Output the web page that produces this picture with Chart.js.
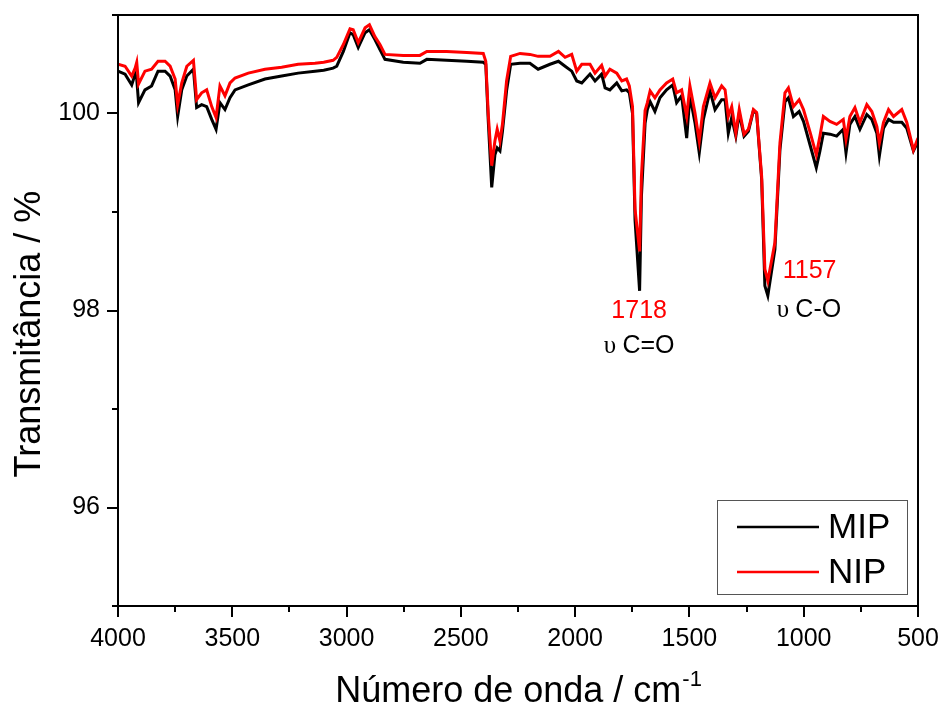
<!DOCTYPE html>
<html>
<head>
<meta charset="utf-8">
<script src="https://cdn.jsdelivr.net/npm/chart.js@4.4.0/dist/chart.umd.min.js"></script>
<style>
  html, body { margin: 0; padding: 0; background: #fff; }
</style>
</head>
<body>
<canvas id="myChart" width="940" height="709"></canvas>
<script>
// FTIR spectra
const wavenumber = [4000, 3969, 3940, 3925, 3918, 3910, 3882, 3853, 3825, 3794, 3772, 3750, 3739, 3721, 3699, 3670, 3656, 3634, 3612, 3590, 3571, 3554, 3532, 3510, 3488, 3430, 3357, 3284, 3212, 3138, 3100, 3059, 3043, 3014, 2985, 2971, 2949, 2919, 2900, 2876, 2854, 2832, 2752, 2679, 2649, 2562, 2474, 2402, 2391, 2380, 2365, 2351, 2341, 2329, 2318, 2300, 2282, 2241, 2198, 2162, 2110, 2073, 2044, 2015, 1993, 1971, 1935, 1913, 1884, 1869, 1848, 1818, 1796, 1775, 1763, 1749, 1738, 1718, 1710, 1694, 1684, 1672, 1651, 1629, 1600, 1573, 1556, 1534, 1512, 1498, 1476, 1457, 1439, 1410, 1388, 1359, 1344, 1330, 1315, 1297, 1282, 1261, 1242, 1220, 1206, 1184, 1170, 1157, 1126, 1104, 1082, 1067, 1045, 1020, 1001, 971, 945, 929, 914, 885, 856, 827, 815, 798, 776, 754, 724, 702, 680, 669, 651, 629, 607, 571, 549, 520, 505, 500];
const mip = [100.43, 100.40, 100.29, 100.40, 100.35, 100.11, 100.24, 100.28, 100.43, 100.43, 100.38, 100.24, 99.97, 100.24, 100.38, 100.45, 100.06, 100.09, 100.07, 99.94, 99.84, 100.11, 100.04, 100.16, 100.24, 100.29, 100.35, 100.38, 100.41, 100.43, 100.44, 100.46, 100.48, 100.63, 100.82, 100.80, 100.67, 100.82, 100.85, 100.75, 100.65, 100.55, 100.52, 100.51, 100.55, 100.54, 100.53, 100.52, 100.50, 99.92, 99.25, 99.58, 99.65, 99.62, 99.82, 100.23, 100.50, 100.51, 100.51, 100.45, 100.50, 100.53, 100.48, 100.43, 100.33, 100.31, 100.40, 100.33, 100.40, 100.26, 100.24, 100.31, 100.23, 100.24, 100.21, 100.00, 98.92, 98.20, 99.16, 99.90, 100.04, 100.12, 100.02, 100.16, 100.24, 100.29, 100.11, 100.18, 99.75, 100.18, 99.91, 99.60, 99.94, 100.23, 100.04, 100.14, 100.14, 99.80, 99.96, 99.77, 100.00, 99.77, 99.82, 100.03, 100.00, 99.33, 98.25, 98.15, 98.62, 99.63, 100.12, 100.16, 99.97, 100.02, 99.92, 99.67, 99.45, 99.62, 99.80, 99.79, 99.77, 99.84, 99.60, 99.89, 99.97, 99.84, 99.99, 99.94, 99.80, 99.57, 99.85, 99.94, 99.91, 99.91, 99.85, 99.62, 99.69, 99.68];
const nip = [100.50, 100.48, 100.38, 100.46, 100.52, 100.30, 100.43, 100.45, 100.53, 100.53, 100.48, 100.35, 100.09, 100.31, 100.48, 100.54, 100.14, 100.21, 100.24, 100.07, 99.96, 100.28, 100.18, 100.31, 100.36, 100.41, 100.45, 100.47, 100.50, 100.51, 100.52, 100.54, 100.57, 100.70, 100.86, 100.85, 100.72, 100.87, 100.90, 100.78, 100.70, 100.60, 100.59, 100.59, 100.63, 100.63, 100.62, 100.61, 100.53, 99.99, 99.47, 99.72, 99.84, 99.72, 99.89, 100.33, 100.58, 100.61, 100.60, 100.58, 100.58, 100.63, 100.57, 100.60, 100.43, 100.50, 100.50, 100.41, 100.49, 100.38, 100.45, 100.41, 100.33, 100.35, 100.28, 100.07, 99.03, 98.60, 99.36, 100.03, 100.11, 100.23, 100.16, 100.24, 100.31, 100.35, 100.21, 100.24, 99.97, 100.28, 100.01, 99.72, 100.07, 100.31, 100.16, 100.28, 100.24, 99.97, 100.07, 99.80, 100.04, 99.79, 99.84, 100.04, 100.01, 99.36, 98.42, 98.30, 98.69, 99.70, 100.21, 100.26, 100.07, 100.14, 100.04, 99.80, 99.58, 99.77, 99.97, 99.92, 99.89, 99.94, 99.74, 99.97, 100.06, 99.91, 100.09, 100.02, 99.87, 99.70, 99.91, 100.04, 99.97, 100.04, 99.91, 99.63, 99.72, 99.75];

const xTicks = [4000, 3500, 3000, 2500, 2000, 1500, 1000, 500];
const yTicks = [96, 98, 100];

const FONT = "'Liberation Sans', Arial, sans-serif";

// frame, tick marks, titles, legend and band labels
const decorations = {
  id: 'decorations',
  afterDraw(chart) {
    const c = chart.ctx;
    const a = chart.chartArea;
    const xs = chart.scales.x;
    const ys = chart.scales.y;
    c.save();
    c.strokeStyle = '#000';
    c.lineWidth = 2;
    c.strokeRect(a.left, a.top, a.right - a.left, a.bottom - a.top);

    c.beginPath();
    for (let v = 500; v <= 4000; v += 250) {
      const px = Math.round(xs.getPixelForValue(v));
      const len = v % 500 === 0 ? 11 : 6;
      c.moveTo(px, a.bottom);
      c.lineTo(px, a.bottom + len);
    }
    for (let v = 95; v <= 101; v++) {
      const py = Math.round(ys.getPixelForValue(v));
      const len = v % 2 === 0 ? 11 : 6;
      c.moveTo(a.left, py);
      c.lineTo(a.left - len, py);
    }
    c.stroke();

    // x title with superscript
    c.fillStyle = '#000';
    c.textBaseline = 'alphabetic';
    c.font = '36px ' + FONT;
    const main = 'Número de onda / cm';
    const wMain = c.measureText(main).width;
    c.font = '22px ' + FONT;
    const sup = '-1';
    const wSup = c.measureText(sup).width;
    const x0 = (a.left + a.right) / 2 - (wMain + wSup) / 2;
    c.font = '36px ' + FONT;
    c.textAlign = 'left';
    c.fillText(main, x0, 702);
    c.font = '22px ' + FONT;
    c.fillText(sup, x0 + wMain + 1, 686);

    // y title
    c.save();
    c.translate(30, 334);
    c.rotate(-Math.PI / 2);
    c.font = '36px ' + FONT;
    c.textAlign = 'center';
    c.textBaseline = 'middle';
    c.fillText('Transmitância / %', 0, 0);
    c.restore();

    // legend
    c.lineWidth = 1;
    c.strokeStyle = '#555';
    c.strokeRect(717.5, 500.5, 190, 94);
    chart.data.datasets.forEach((ds, i) => {
      const ly = 527 + i * 45;
      c.strokeStyle = ds.borderColor;
      c.lineWidth = 2.5;
      c.beginPath();
      c.moveTo(737, ly);
      c.lineTo(819, ly);
      c.stroke();
      c.fillStyle = '#000';
      c.font = '35px ' + FONT;
      c.textAlign = 'left';
      c.textBaseline = 'middle';
      c.fillText(ds.label, 828, ly + 1);
    });

    // band labels
    const upsilon = (label, x, y, align) => {
      c.font = "25px 'Liberation Serif', serif";
      const w1 = c.measureText('υ ').width;
      c.font = '25px ' + FONT;
      const w2 = c.measureText(label).width;
      let left = align === 'center' ? x - (w1 + w2) / 2 : x;
      c.textAlign = 'left';
      c.fillStyle = '#000';
      c.font = "25px 'Liberation Serif', serif";
      c.fillText('υ ', left, y);
      c.font = '25px ' + FONT;
      c.fillText(label, left + w1, y);
    };
    c.textBaseline = 'middle';
    c.font = '25px ' + FONT;
    c.fillStyle = '#ff0000';
    c.textAlign = 'center';
    c.fillText('1718', xs.getPixelForValue(1720), ys.getPixelForValue(97.99));
    upsilon('C=O', xs.getPixelForValue(1720), ys.getPixelForValue(97.64), 'center');
    c.fillStyle = '#ff0000';
    c.textAlign = 'left';
    c.font = '25px ' + FONT;
    c.fillText('1157', xs.getPixelForValue(1092), ys.getPixelForValue(98.40));
    upsilon('C-O', xs.getPixelForValue(1118), ys.getPixelForValue(98.00), 'left');
    c.restore();
  }
};

const ctx = document.getElementById('myChart');

new Chart(ctx, {
  type: 'line',
  data: {
    datasets: [{
      label: 'MIP',
      data: wavenumber.map((w, i) => ({ x: w, y: mip[i] })),
      borderColor: '#000000',
      borderWidth: 3,
      pointRadius: 0,
      order: 1
    }, {
      label: 'NIP',
      data: wavenumber.map((w, i) => ({ x: w, y: nip[i] })),
      borderColor: '#ff0000',
      borderWidth: 3,
      pointRadius: 0,
      order: 0
    }]
  },
  options: {
    responsive: false,
    animation: false,
    devicePixelRatio: 1,
    layout: { padding: { top: 15, right: 22, left: 0, bottom: 0 } },
    plugins: { legend: { display: false }, tooltip: { enabled: false } },
    scales: {
      x: {
        type: 'linear',
        reverse: true,
        min: 500,
        max: 4000,
        afterBuildTicks: s => { s.ticks = xTicks.map(v => ({ value: v })); },
        afterFit: s => { s.height = 103; s.paddingLeft = 0; s.paddingRight = 0; },
        grid: { display: false, drawTicks: false, tickLength: 0 },
        border: { display: false },
        ticks: { color: '#000', font: { family: FONT, size: 25 }, padding: 18, maxRotation: 0, autoSkip: false, callback: v => String(v) }
      },
      y: {
        min: 95,
        max: 101,
        afterBuildTicks: s => { s.ticks = yTicks.map(v => ({ value: v })); },
        afterFit: s => { s.width = 118; s.paddingTop = 0; s.paddingBottom = 0; },
        grid: { display: false, drawTicks: false, tickLength: 0 },
        border: { display: false },
        ticks: { color: '#000', font: { family: FONT, size: 25 }, padding: 18, callback: v => String(v) }
      }
    }
  },
  plugins: [decorations]
});
</script>
</body>
</html>
